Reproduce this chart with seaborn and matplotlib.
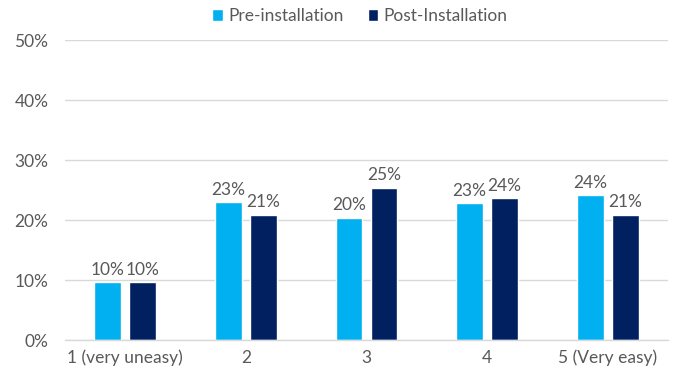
import matplotlib
matplotlib.use("Agg")
import matplotlib.pyplot as plt
import seaborn as sns
import pandas as pd
from matplotlib.patches import Patch

categories = ["1 (very uneasy)", "2", "3", "4", "5 (Very easy)"]
pre_values = [9.6, 23.0, 20.4, 22.8, 24.2]
post_values = [9.6, 20.9, 25.4, 23.6, 20.9]
series = ["Pre-installation", "Post-Installation"]
colors = ["#00B0F0", "#002060"]
yticks = [0, 10, 20, 30, 40, 50]

df = pd.DataFrame({
    "category": categories * 2,
    "value": pre_values + post_values,
    "series": [series[0]] * len(categories) + [series[1]] * len(categories),
})

sns.set_theme(style="white")
plt.rcParams["font.family"] = ["Lato", "DejaVu Sans"]
text_color = "#595959"
fs = 12.5

fig = plt.figure(figsize=(6.75, 3.75), dpi=100)
ax = fig.add_axes([0.0963, 0.0933, 0.8933, 0.80])

sns.barplot(data=df, x="category", y="value", hue="series", order=categories,
            hue_order=series, palette=colors, width=0.58, gap=0.23,
            saturation=1, ax=ax, legend=False)

for container in ax.containers:
    ax.bar_label(container, labels=[f"{v.get_height():.0f}%" for v in container],
                 padding=3, fontsize=fs, color=text_color)

ax.set_ylim(0, 50)
ax.set_xlim(-0.5, 4.5)
ax.set_yticks(yticks)
ax.set_yticklabels([f"{t}%" for t in yticks], fontsize=fs, color=text_color)
ax.tick_params(axis="x", labelsize=fs, labelcolor=text_color, length=0, pad=7)
ax.tick_params(axis="y", length=0, pad=12)
ax.set_xlabel("")
ax.set_ylabel("")
ax.yaxis.grid(True, color="#D9D9D9", linewidth=1)
ax.set_axisbelow(True)
for s in ["top", "right", "left"]:
    ax.spines[s].set_visible(False)
ax.spines["bottom"].set_color("#D9D9D9")
ax.spines["bottom"].set_linewidth(1)

handles = [Patch(facecolor=c, label=s) for c, s in zip(colors, series)]
fig.legend(handles=handles, loc="center", bbox_to_anchor=(0.533, 0.957), ncol=2,
           frameon=False, fontsize=fs, labelcolor=text_color,
           handlelength=0.6, handleheight=0.6, handletextpad=0.3, columnspacing=1.4)

fig.savefig("out.png", dpi=100)
